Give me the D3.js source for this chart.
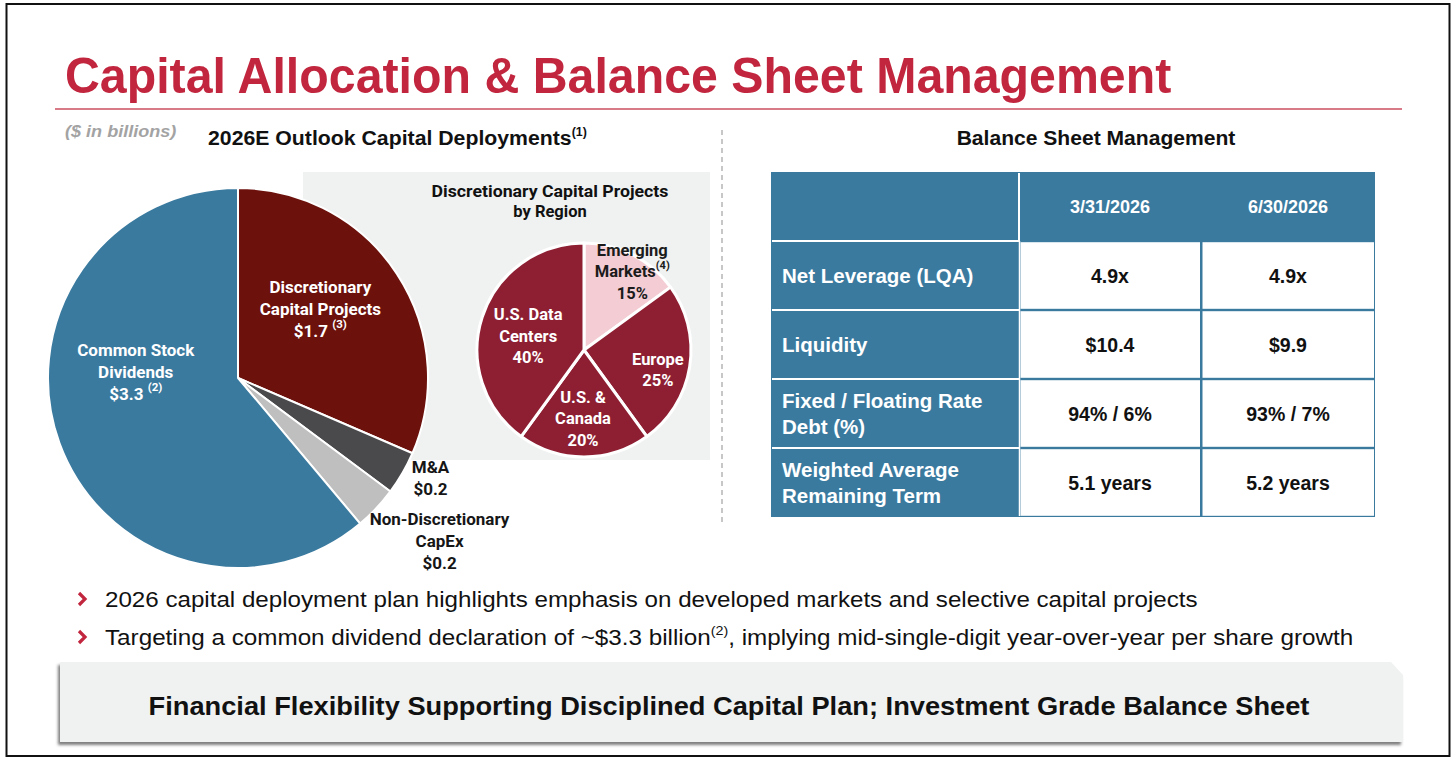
<!DOCTYPE html>
<html>
<head>
<meta charset="utf-8">
<script src="https://cdn.jsdelivr.net/npm/d3@7/dist/d3.min.js"></script>
<style>
  body { margin: 0; background: #fff; }
  svg { display: block; }
</style>
</head>
<body>
<svg id="chart" width="1456" height="759"></svg>
<script>
// ---- data ----
const capCategories = ["Discretionary Capital Projects", "M&A", "Non-Discretionary CapEx", "Common Stock Dividends"];
const capValues = [1.7, 0.2, 0.2, 3.3];
const capNameLines = [["Discretionary", "Capital Projects"], ["M&A"], ["Non-Discretionary", "CapEx"], ["Common Stock", "Dividends"]];
const capNotes = ["(3)", "", "", "(2)"];

const regionNames = ["Emerging Markets", "Europe", "U.S. & Canada", "U.S. Data Centers"];
const regionShares = [15, 25, 20, 40];
const regionNameLines = [["Emerging", "Markets"], ["Europe"], ["U.S. &", "Canada"], ["U.S. Data", "Centers"]];
const regionNotes = ["(4)", "", "", ""];

const tableDates = ["3/31/2026", "6/30/2026"];
const rowLabels = [["Net Leverage (LQA)"], ["Liquidity"], ["Fixed / Floating Rate", "Debt (%)"], ["Weighted Average", "Remaining Term"]];
const valuesMar = ["4.9x", "$10.4", "94% / 6%", "5.1 years"];
const valuesJun = ["4.9x", "$9.9", "93% / 7%", "5.2 years"];

const bullets = [
  ["2026 capital deployment plan highlights emphasis on developed markets and selective capital projects"],
  ["Targeting a common dividend declaration of ~$3.3 billion", "(2)", ", implying mid-single-digit year-over-year per share growth"]
];

// ---- styles ----
const BLUE = "#3A7A9F";
const TITLE_RED = "#C1263E";
const ARIAL = "'Liberation Sans', Arial, sans-serif";
const LABEL_FONT = "Roboto, 'Noto Sans', sans-serif";

const svg = d3.select("#chart");

// stretch a text horizontally so it spans a measured width
function fitText(t, targetW) {
  const w = t.node().getBBox().width;
  if (!w) return t;
  const x = +t.attr("x"), y = +t.attr("y");
  const sx = targetW / w;
  t.attr("transform", `translate(${x},${y}) scale(${sx},1) translate(${-x},${-y})`);
  return t;
}

function addSup(t, sup, size, rest) {
  t.append("tspan").attr("font-size", size).attr("dy", -size * 0.75).text(sup);
  if (rest) t.append("tspan").attr("dy", size * 0.75).text(rest);
}

const defs = svg.append("defs");
const shadow = defs.append("filter").attr("id", "shadow").attr("x", "-5%").attr("y", "-20%").attr("width", "110%").attr("height", "150%");
shadow.append("feDropShadow").attr("dx", -2).attr("dy", 3).attr("stdDeviation", 1.6).attr("flood-color", "#707070").attr("flood-opacity", 0.9);

// frame
svg.append("rect").attr("x", 6.5).attr("y", 4).attr("width", 1443).attr("height", 752)
  .attr("fill", "#fff").attr("stroke", "#111").attr("stroke-width", 2);

// title
const title = svg.append("text").attr("x", 65).attr("y", 93)
  .attr("font-family", ARIAL).attr("font-weight", 700).attr("font-size", 50)
  .attr("fill", TITLE_RED).text("Capital Allocation & Balance Sheet Management");
fitText(title, 1107);

svg.append("line").attr("x1", 55).attr("x2", 1402).attr("y1", 109).attr("y2", 109)
  .attr("stroke", "#CC4E60").attr("stroke-width", 1.3);

const units = svg.append("text").attr("x", 65).attr("y", 137)
  .attr("font-family", ARIAL).attr("font-style", "italic").attr("font-weight", 700)
  .attr("font-size", 16.5).attr("fill", "#A3A3A3").text("($ in billions)");
fitText(units, 112);

const capTitle = svg.append("text").attr("x", 208).attr("y", 145)
  .attr("font-family", ARIAL).attr("font-weight", 700).attr("font-size", 20.5).attr("fill", "#111")
  .text("2026E Outlook Capital Deployments");
addSup(capTitle, "(1)", 12);
fitText(capTitle, 379);

// dashed divider
svg.append("line").attr("x1", 722).attr("x2", 722).attr("y1", 130).attr("y2", 522)
  .attr("stroke", "#B5B5B5").attr("stroke-width", 1.5).attr("stroke-dasharray", "5,4");

// ---- region panel + small pie ----
svg.append("rect").attr("x", 303).attr("y", 172).attr("width", 407).attr("height", 288).attr("fill", "#F0F1F1");

["Discretionary Capital Projects", "by Region"].forEach((s, i) => {
  const t = svg.append("text").attr("x", 550).attr("y", 191 + i * 20)
    .attr("text-anchor", "middle").attr("dominant-baseline", "central")
    .attr("font-family", LABEL_FONT).attr("font-weight", 700).attr("font-size", 16.5)
    .attr("fill", "#111").text(s);
  if (i === 0) fitText(t, 237);
});

function drawLabel(g, cx, cy, lines, lh, color, size, noteSize) {
  const n = lines.length;
  lines.forEach((s, i) => {
    const t = g.append("text").attr("x", cx).attr("y", cy + (i - (n - 1) / 2) * lh)
      .attr("text-anchor", "middle").attr("dominant-baseline", "central")
      .attr("font-family", LABEL_FONT).attr("font-weight", 700).attr("font-size", size)
      .attr("fill", color);
    t.append("tspan").text(s.text);
    if (s.note) {
      t.append("tspan").attr("font-size", noteSize).attr("dy", -noteSize * 0.6).text(s.note);
    }
  });
}

const regionColor = d3.scaleOrdinal().domain(regionNames).range(["#F4CDD4", "#8E1F33", "#8E1F33", "#8E1F33"]);
const regionPie = d3.pie().sort(null).value((d, i) => regionShares[i]);
const rR = 107;
const regionArc = d3.arc().innerRadius(0).outerRadius(rR);
const gR = svg.append("g").attr("transform", "translate(584,350)");
const regionArcs = regionPie(regionNames);
gR.selectAll("path").data(regionArcs).join("path")
  .attr("d", regionArc).attr("fill", d => regionColor(d.data))
  .attr("stroke", "#fff").attr("stroke-width", 3).attr("stroke-linejoin", "round");

// label nudges from centroid (layout only)
const regionNudge = [[24, -31], [21, 11], [-1, 14.5], [-5, 2.5]];
regionArcs.forEach((a, i) => {
  const [cx, cy] = regionArc.centroid(a);
  const lines = regionNameLines[i].map((s, j) => ({ text: s, note: j === regionNameLines[i].length - 1 ? regionNotes[i] : "" }));
  lines.push({ text: regionShares[i] + "%" });
  drawLabel(gR, cx + regionNudge[i][0], cy + regionNudge[i][1], lines, 21.5,
    i === 0 ? "#1b1b1b" : "#fff", 16.5, 11);
});

// ---- big pie ----
const capColor = d3.scaleOrdinal().domain(capCategories).range(["#6C110C", "#4A4A4D", "#BFBFBF", BLUE]);
const capPie = d3.pie().sort(null).value((d, i) => capValues[i]);
const R = 190;
const capArc = d3.arc().innerRadius(0).outerRadius(R);
const gC = svg.append("g").attr("transform", "translate(238,378)");
const capArcs = capPie(capCategories);
gC.selectAll("path").data(capArcs).join("path")
  .attr("d", capArc).attr("fill", d => capColor(d.data))
  .attr("stroke", "#fff").attr("stroke-width", 2).attr("stroke-linejoin", "round");

// label placement: radius for the anchor point, then a nudge (layout only)
const capLabelR = [95, 220, 240, 95];
const capNudge = [[3, -17], [2, -10], [27, -2], [-13, -38.5]];
const capLabelColor = ["#fff", "#161616", "#161616", "#fff"];
capArcs.forEach((a, i) => {
  const la = d3.arc().innerRadius(capLabelR[i]).outerRadius(capLabelR[i]);
  const [cx, cy] = la.centroid(a);
  const lines = capNameLines[i].map(s => ({ text: s }));
  lines.push({ text: "$" + capValues[i].toFixed(1) + (capNotes[i] ? " " : ""), note: capNotes[i] });
  drawLabel(gC, cx + capNudge[i][0], cy + capNudge[i][1], lines, 22, capLabelColor[i], 17, 11.5);
});

// ---- balance sheet table ----
const bsTitle = svg.append("text").attr("x", 1096).attr("y", 138)
  .attr("text-anchor", "middle").attr("dominant-baseline", "central")
  .attr("font-family", ARIAL).attr("font-weight", 700).attr("font-size", 20.5).attr("fill", "#111")
  .text("Balance Sheet Management");
fitText(bsTitle, 279);

const colEdges = [771, 1019, 1201, 1375];
const tTop = 172, tHead = 241, tBottom = 517;
const rowY = d3.scaleBand().domain(d3.range(rowLabels.length)).range([tHead, tBottom]);
const colVals = [valuesMar, valuesJun];
const gT = svg.append("g");

gT.append("rect").attr("x", colEdges[0]).attr("y", tTop)
  .attr("width", colEdges[3] - colEdges[0]).attr("height", tBottom - tTop).attr("fill", BLUE);

// white data cells
rowLabels.forEach((lbl, r) => {
  colVals.forEach((vals, c) => {
    gT.append("rect")
      .attr("x", colEdges[c + 1] + 1.5).attr("y", rowY(r) + 1.2)
      .attr("width", colEdges[c + 2] - colEdges[c + 1] - 2.5).attr("height", rowY.bandwidth() - 2.4)
      .attr("fill", "#fff");
  });
});

// white grid lines on the blue side
gT.append("line").attr("x1", colEdges[1]).attr("x2", colEdges[1]).attr("y1", tTop + 1).attr("y2", tHead)
  .attr("stroke", "#fff").attr("stroke-width", 2);
rowLabels.forEach((lbl, r) => {
  gT.append("line").attr("x1", colEdges[0] + 1).attr("x2", colEdges[1]).attr("y1", rowY(r)).attr("y2", rowY(r))
    .attr("stroke", "#fff").attr("stroke-width", 2);
});
gT.append("line").attr("x1", colEdges[1] + 0.5).attr("x2", colEdges[1] + 0.5).attr("y1", tHead).attr("y2", tBottom - 1)
  .attr("stroke", "#fff").attr("stroke-width", 1.5);

// header dates
tableDates.forEach((d, c) => {
  gT.append("text").attr("x", (colEdges[c + 1] + colEdges[c + 2]) / 2).attr("y", (tTop + tHead) / 2)
    .attr("text-anchor", "middle").attr("dominant-baseline", "central")
    .attr("font-family", ARIAL).attr("font-weight", 700).attr("font-size", 18).attr("fill", "#fff").text(d);
});

// row labels and values
rowLabels.forEach((lbl, r) => {
  const cy = rowY(r) + rowY.bandwidth() / 2;
  lbl.forEach((s, j) => {
    gT.append("text").attr("x", 782).attr("y", cy + (j - (lbl.length - 1) / 2) * 25.5)
      .attr("dominant-baseline", "central")
      .attr("font-family", ARIAL).attr("font-weight", 700).attr("font-size", 20.5).attr("fill", "#fff").text(s);
  });
  colVals.forEach((vals, c) => {
    gT.append("text").attr("x", (colEdges[c + 1] + colEdges[c + 2]) / 2).attr("y", cy)
      .attr("text-anchor", "middle").attr("dominant-baseline", "central")
      .attr("font-family", ARIAL).attr("font-weight", 700).attr("font-size", 19.5).attr("fill", "#111").text(vals[r]);
  });
});

// ---- bullets ----
const bulletY = [599, 637];
const bulletW = [1093, 1249];
bullets.forEach((b, i) => {
  // red chevron marker
  svg.append("path")
    .attr("d", `M${79},${bulletY[i] - 6} L${85},${bulletY[i]} L${79},${bulletY[i] + 6}`)
    .attr("fill", "none").attr("stroke", "#C1263E").attr("stroke-width", 3.2)
    .attr("stroke-linejoin", "miter");
  const t = svg.append("text").attr("x", 105).attr("y", bulletY[i] + 8)
    .attr("font-family", ARIAL).attr("font-size", 22).attr("fill", "#111");
  t.append("tspan").text(b[0]);
  if (b[1]) addSup(t, b[1], 13, b[2]);
  fitText(t, bulletW[i]);
});

// ---- footer banner ----
svg.append("path")
  .attr("d", "M60,662 H1391 L1403,675 V742 H60 Z")
  .attr("fill", "#F0F1F1").attr("filter", "url(#shadow)");
const foot = svg.append("text").attr("x", 729).attr("y", 706)
  .attr("text-anchor", "middle").attr("dominant-baseline", "central")
  .attr("font-family", ARIAL).attr("font-weight", 700).attr("font-size", 25.5).attr("fill", "#111")
  .text("Financial Flexibility Supporting Disciplined Capital Plan; Investment Grade Balance Sheet");
fitText(foot, 1162);
</script>
</body>
</html>
